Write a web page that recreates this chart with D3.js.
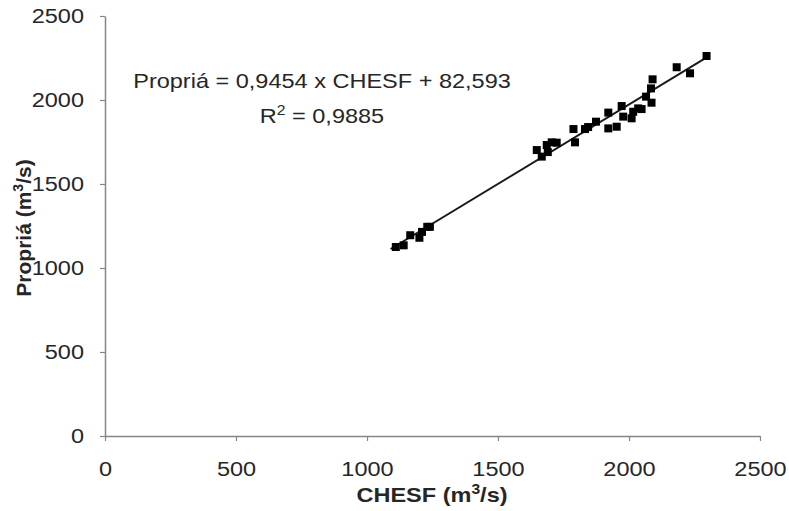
<!DOCTYPE html>
<html>
<head>
<meta charset="utf-8">
<script src="https://cdn.jsdelivr.net/npm/d3@7"></script>
<style>
  body { margin: 0; background: #fff; }
  svg text { font-family: "Liberation Sans", Arial, sans-serif; fill: #262626; }
</style>
</head>
<body>
<svg id="chart" width="789" height="511"></svg>
<script>
// flow values (m3/s)
const chesf = [1110, 1140, 1165, 1200, 1210, 1230, 1240,
  1648, 1667, 1686, 1690, 1705, 1724, 1788, 1794, 1832, 1844, 1874,
  1921, 1921, 1953, 1972, 1978, 2010, 2016, 2035, 2048, 2065, 2084,
  2090, 2086, 2182, 2233, 2296];
const propria = [1125, 1135, 1195, 1180, 1215, 1245, 1245,
  1702, 1663, 1732, 1690, 1748, 1746, 1827, 1748, 1827, 1839, 1871,
  1925, 1831, 1841, 1964, 1901, 1891, 1930, 1950, 1946, 2020, 2069,
  2123, 1984, 2195, 2159, 2262];
const xTicks = [0, 500, 1000, 1500, 2000, 2500];
const yTicks = [0, 500, 1000, 1500, 2000, 2500];
const slope = 0.9454;
const intercept = 82.593;

const svg = d3.select('#chart');
const x = d3.scaleLinear().domain([0, 2500]).range([105, 760]);
const y = d3.scaleLinear().domain([0, 2500]).range([436, 16]);
const axisColor = '#868686';
const stretch = 1.12; // the original picture is a bit wider than tall

// axes
const gx = svg.append('g')
  .attr('transform', 'translate(0,' + y(0) + ')')
  .call(d3.axisBottom(x).tickValues(xTicks).tickSize(5).tickSizeOuter(0).tickPadding(20).tickFormat(d3.format('d')));
const gy = svg.append('g')
  .attr('transform', 'translate(' + x(0) + ',0)')
  .call(d3.axisLeft(y).tickValues(yTicks).tickSize(5).tickSizeOuter(0).tickPadding(16).tickFormat(d3.format('d')));

[gx, gy].forEach(function (g) {
  g.select('.domain').attr('stroke', axisColor).attr('stroke-width', 1.5);
  g.selectAll('.tick line').attr('stroke', axisColor).attr('stroke-width', 1.2);
  g.selectAll('.tick text').attr('font-size', 21).attr('fill', '#262626')
    .attr('font-family', '"Liberation Sans", Arial, sans-serif');
});
gx.selectAll('.tick text').attr('transform', 'scale(' + stretch + ',1)');
gy.selectAll('.tick text').attr('x', 0).attr('transform', 'translate(-21,0) scale(' + stretch + ',1)');

// trend line
const points = chesf.map((c, i) => ({ x: c, y: propria[i] }));
const ext = d3.extent(chesf);
const lineData = [ext[0] - 20, ext[1] + 10].map(v => ({ x: v, y: slope * v + intercept }));
svg.append('path')
  .datum(lineData)
  .attr('d', d3.line().x(d => x(d.x)).y(d => y(d.y)))
  .attr('stroke', '#1a1a1a')
  .attr('stroke-width', 2)
  .attr('fill', 'none');

// points
const s = 8;
svg.selectAll('rect.pt').data(points).enter().append('rect')
  .attr('class', 'pt')
  .attr('x', d => x(d.x) - s / 2)
  .attr('y', d => y(d.y) - s / 2)
  .attr('width', s)
  .attr('height', s)
  .attr('fill', '#000');

// equation
svg.append('text')
  .attr('transform', 'translate(322,88) scale(' + stretch + ',1)')
  .attr('text-anchor', 'middle')
  .attr('font-size', 21)
  .text('Propriá = 0,9454 x CHESF + 82,593');
const r2 = svg.append('text')
  .attr('transform', 'translate(322,123) scale(' + stretch + ',1)')
  .attr('text-anchor', 'middle')
  .attr('font-size', 21);
r2.append('tspan').text('R');
r2.append('tspan').attr('dy', -8).attr('font-size', 14).text('2');
r2.append('tspan').attr('dy', 8).text(' = 0,9885');

// axis titles
const xt = svg.append('text')
  .attr('transform', 'translate(432,502) scale(' + stretch + ',1)')
  .attr('text-anchor', 'middle')
  .attr('font-size', 21)
  .attr('font-weight', 'bold');
xt.append('tspan').text('CHESF (m');
xt.append('tspan').attr('dy', -8).attr('font-size', 14).text('3');
xt.append('tspan').attr('dy', 8).text('/s)');

const yt = svg.append('text')
  .attr('transform', 'translate(31,228) rotate(-90)')
  .attr('text-anchor', 'middle')
  .attr('font-size', 21)
  .attr('font-weight', 'bold');
yt.append('tspan').text('Propriá (m');
yt.append('tspan').attr('dy', -8).attr('font-size', 14).text('3');
yt.append('tspan').attr('dy', 8).text('/s)');
</script>
</body>
</html>
